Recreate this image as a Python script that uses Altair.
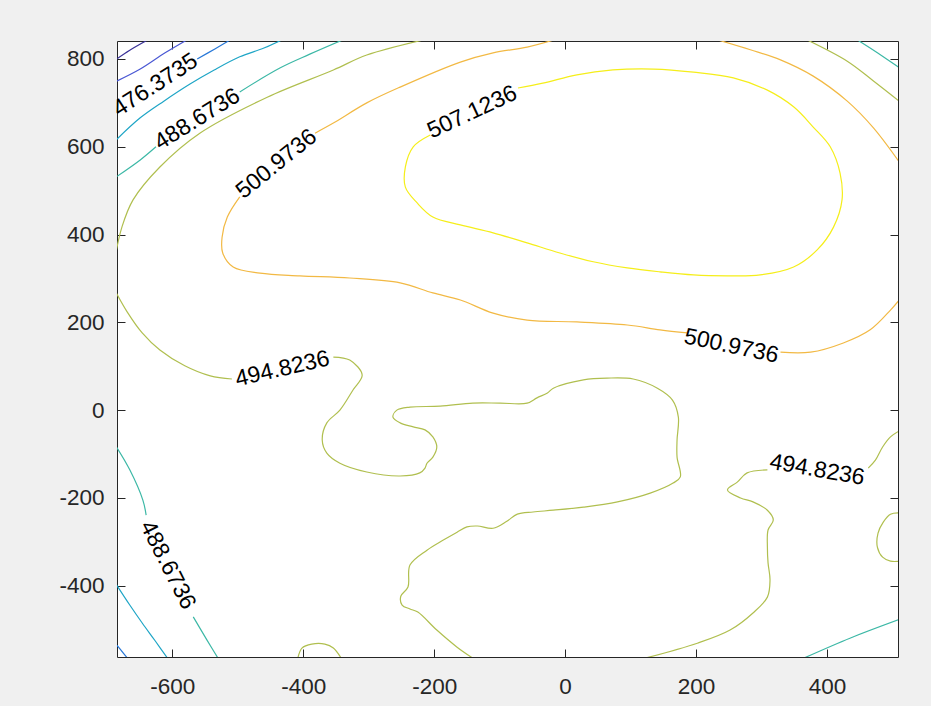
import altair as alt
import pandas as pd

# Contour levels (lowest to highest) and their parula-style line colours
levels = ["464.0736", "470.2236", "476.3735", "482.5236",
          "488.6736", "494.8236", "500.9736", "507.1236"]
level_colors = ["#3b3398", "#4a58d4", "#2878d8", "#1ea5c6",
                "#3cb8a6", "#b0bf4f", "#f2b944", "#f5ee1a"]

# Contour pieces as (x, y) vertices; a piece stops where an inline label sits
c464 = [(-687, 798), (-665, 820), (-637, 844)]
c470 = [(-687, 748), (-649, 777), (-611, 814), (-577, 844)]
c476_top = [(-562, 800), (-535, 823), (-511, 844)]
c476_corner = [(-687, -531), (-667, -568)]
c482_top = [(-687, 614), (-649, 666), (-613, 704), (-573, 743), (-536, 775),
            (-497, 805), (-460, 825), (-432, 844)]
c482_low = [(-687, -394), (-665, -444), (-646, -485), (-626, -526), (-606, -568)]
c488_top_a = [(-687, 530), (-649, 570), (-625, 600)]
c488_top_b = [(-497, 725), (-435, 780), (-390, 811), (-339, 844)]
c488_right = [(446, 844), (477, 814), (512, 779)]
c488_low_a = [(-687, -80), (-665, -136), (-645, -205), (-640, -239)]
c488_low_b = [(-568, -471), (-547, -524), (-529, -568)]
c488_corner = [(360, -568), (436, -519), (512, -476)]
c494_top = [(-215, 844), (-303, 809), (-354, 775), (-455, 713), (-558, 631),
            (-619, 554), (-660, 479), (-677, 417), (-687, 352)]
c494_right_top = [(369, 844), (431, 795), (471, 750), (512, 702)]
c494_mid_a = [(-687, 271), (-669, 224), (-646, 176), (-619, 137), (-581, 101),
              (-542, 78), (-509, 71)]
c494_mid_b = [(-354, 121), (-329, 114), (-310, 80), (-324, 46), (-344, 0),
              (-364, -29), (-371, -68), (-364, -98), (-344, -121), (-303, -141),
              (-252, -150), (-222, -143), (-214, -132), (-211, -121), (-202, -107),
              (-196, -84), (-202, -61), (-214, -45), (-232, -38), (-252, -29),
              (-263, -16), (-257, 0), (-237, 7), (-191, 9), (-141, 16), (-99, 16),
              (-58, 16), (-43, 28), (-27, 39), (-18, 50), (28, 69), (64, 73),
              (104, 71), (141, 50), (164, 23), (173, -16), (171, -68), (171, -107),
              (176, -152), (165, -166), (130, -189), (80, -209), (28, -221),
              (-18, -228), (-49, -232), (-73, -237), (-89, -253), (-110, -269),
              (-134, -264), (-150, -266), (-165, -278), (-186, -296), (-211, -319),
              (-237, -353), (-240, -403), (-251, -424), (-249, -444), (-237, -453),
              (-225, -460), (-196, -501), (-165, -540), (-138, -568)]
c494_east_a = [(512, -46), (497, -61), (485, -84), (474, -114), (463, -132)]
c494_east_b = [(309, -136), (278, -143), (263, -164), (248, -182), (268, -200),
               (287, -209), (309, -228), (318, -250), (310, -273), (309, -312),
               (310, -348), (313, -387), (309, -426), (287, -462), (252, -501),
               (202, -531), (117, -567)]
c494_loop = [(512, -234), (497, -237), (486, -255), (478, -280), (477, -312),
             (485, -335), (497, -344), (512, -344)]
c494_bump = [(-409, -570), (-402, -542), (-387, -533), (-367, -533), (-354, -542),
             (-340, -570)]
c500_a = [(-16, 844), (-58, 827), (-110, 814), (-160, 793), (-252, 736),
          (-303, 700), (-354, 654), (-382, 631)]
c500_b = [(-497, 486), (-516, 440), (-524, 394), (-523, 358), (-507, 326),
          (-466, 312), (-405, 306), (-329, 301), (-252, 290), (-202, 267),
          (-160, 251), (-110, 221), (-58, 205), (18, 201), (95, 194), (145, 183),
          (187, 176)]
c500_c = [(329, 132), (375, 132), (425, 153), (466, 183), (497, 228), (512, 254)]
c500_right_top = [(232, 844), (283, 821), (329, 798), (379, 761), (431, 704),
                  (471, 643), (512, 562)]
c507 = [(-206, 627), (-232, 600), (-244, 554), (-244, 508), (-226, 472),
        (-202, 440), (-160, 422), (-110, 404), (-58, 381), (-8, 358), (43, 338),
        (95, 324), (145, 315), (196, 308), (248, 306), (298, 308), (349, 326),
        (385, 365), (410, 417), (423, 479), (420, 540), (405, 600), (379, 645),
        (349, 691), (309, 729), (257, 757), (196, 770), (135, 777), (73, 775),
        (18, 764), (-34, 745), (-72, 734)]

low_pieces = [
    ("464.0736", c464), ("470.2236", c470),
    ("476.3735", c476_top), ("476.3735", c476_corner),
    ("482.5236", c482_top), ("482.5236", c482_low),
    ("488.6736", c488_top_a), ("488.6736", c488_top_b), ("488.6736", c488_right),
    ("488.6736", c488_low_a), ("488.6736", c488_low_b), ("488.6736", c488_corner),
]
high_pieces = [
    ("494.8236", c494_top), ("494.8236", c494_right_top),
    ("494.8236", c494_mid_a), ("494.8236", c494_mid_b),
    ("494.8236", c494_east_a), ("494.8236", c494_east_b),
    ("494.8236", c494_loop), ("494.8236", c494_bump),
    ("500.9736", c500_a), ("500.9736", c500_b), ("500.9736", c500_c),
    ("500.9736", c500_right_top),
    ("507.1236", c507),
]

# Inline contour labels: text, centre (data units), rotation in degrees
label_text = ["476.3735", "488.6736", "500.9736", "507.1236",
              "494.8236", "500.9736", "494.8236", "488.6736"]
label_x = [-626, -562, -441, -142, -432, 254, 385, -607]
label_y = [741, 663, 561, 679, 94, 146, -136, -353]
label_angle = [327, 328, 321, 335, 347, 12, 10, 63]

x_ticks = [-600, -400, -200, 0, 200, 400]
y_ticks = [-400, -200, 0, 200, 400, 600, 800]
x_range = [-684.5, 508.5]
y_range = [-562.4, 841.0]


def to_frame(pieces, start):
    rows = []
    for k, (lvl, pts) in enumerate(pieces):
        for i, (x, y) in enumerate(pts):
            rows.append({"piece": start + k, "level": lvl, "i": i, "x": x, "y": y})
    return pd.DataFrame(rows)


low_df = to_frame(low_pieces, 0)
high_df = to_frame(high_pieces, 100)
labels_df = pd.DataFrame({"text": label_text, "x": label_x, "y": label_y,
                          "angle": label_angle})

FONT = "Liberation Sans"
INK = "#262626"
W, H = 781, 616

xs = alt.Scale(domain=x_range, nice=False, zero=False)
ys = alt.Scale(domain=y_range, nice=False, zero=False)
colors = alt.Scale(domain=levels, range=level_colors)


def label_axis(orient, values, pad):
    return alt.Axis(orient=orient, values=values, ticks=False, tickSize=0,
                    domain=False, grid=False, title=None, labelFont=FONT,
                    labelFontSize=22.5, labelColor=INK, labelPadding=pad,
                    labelFlush=False, labelOverlap=False,
                    labelExpr="'' + datum.value")


def tick_axis(orient, offset, values):
    # axis pushed across the plot so that its ticks point inwards
    return alt.Axis(orient=orient, offset=offset, values=values, labels=False,
                    ticks=True, tickSize=8, tickColor=INK, tickWidth=1,
                    domain=False, grid=False, title=None)


line_style = dict(strokeWidth=1.2, interpolate="catmull-rom", clip=True)

low_lines = alt.Chart(low_df).mark_line(**line_style).encode(
    x=alt.X("x:Q", scale=xs, axis=label_axis("bottom", x_ticks, 18)),
    y=alt.Y("y:Q", scale=ys, axis=label_axis("left", y_ticks, 13)),
    color=alt.Color("level:N", scale=colors, legend=None),
    detail="piece:N",
    order="i:Q",
)

high_lines = alt.Chart(high_df).mark_line(**line_style).encode(
    x=alt.X("x:Q", scale=xs, axis=tick_axis("top", -H, x_ticks)),
    y=alt.Y("y:Q", scale=ys, axis=tick_axis("right", -W, y_ticks)),
    color=alt.Color("level:N", scale=colors, legend=None),
    detail="piece:N",
    order="i:Q",
)

labels = alt.Chart(labels_df).mark_text(
    font=FONT, fontSize=23, color="black", align="center", baseline="middle"
).encode(
    x=alt.X("x:Q", scale=xs, axis=tick_axis("bottom", -H, x_ticks)),
    y=alt.Y("y:Q", scale=ys, axis=tick_axis("left", -W, y_ticks)),
    text="text:N",
    angle=alt.Angle("angle:Q", scale=None),
)

chart = (
    alt.layer(low_lines, high_lines, labels)
    .resolve_axis(x="independent", y="independent")
    .properties(
        width=W,
        height=H,
        padding={"left": 117, "top": 41, "right": 33, "bottom": 49},
        autosize=alt.AutoSizeParams(type="none"),
        background="#f0f0f0",
    )
    .configure_view(stroke=INK, strokeWidth=1, fill="white")
)

chart.save("out.html", embed_options={"renderer": "svg", "actions": False})
